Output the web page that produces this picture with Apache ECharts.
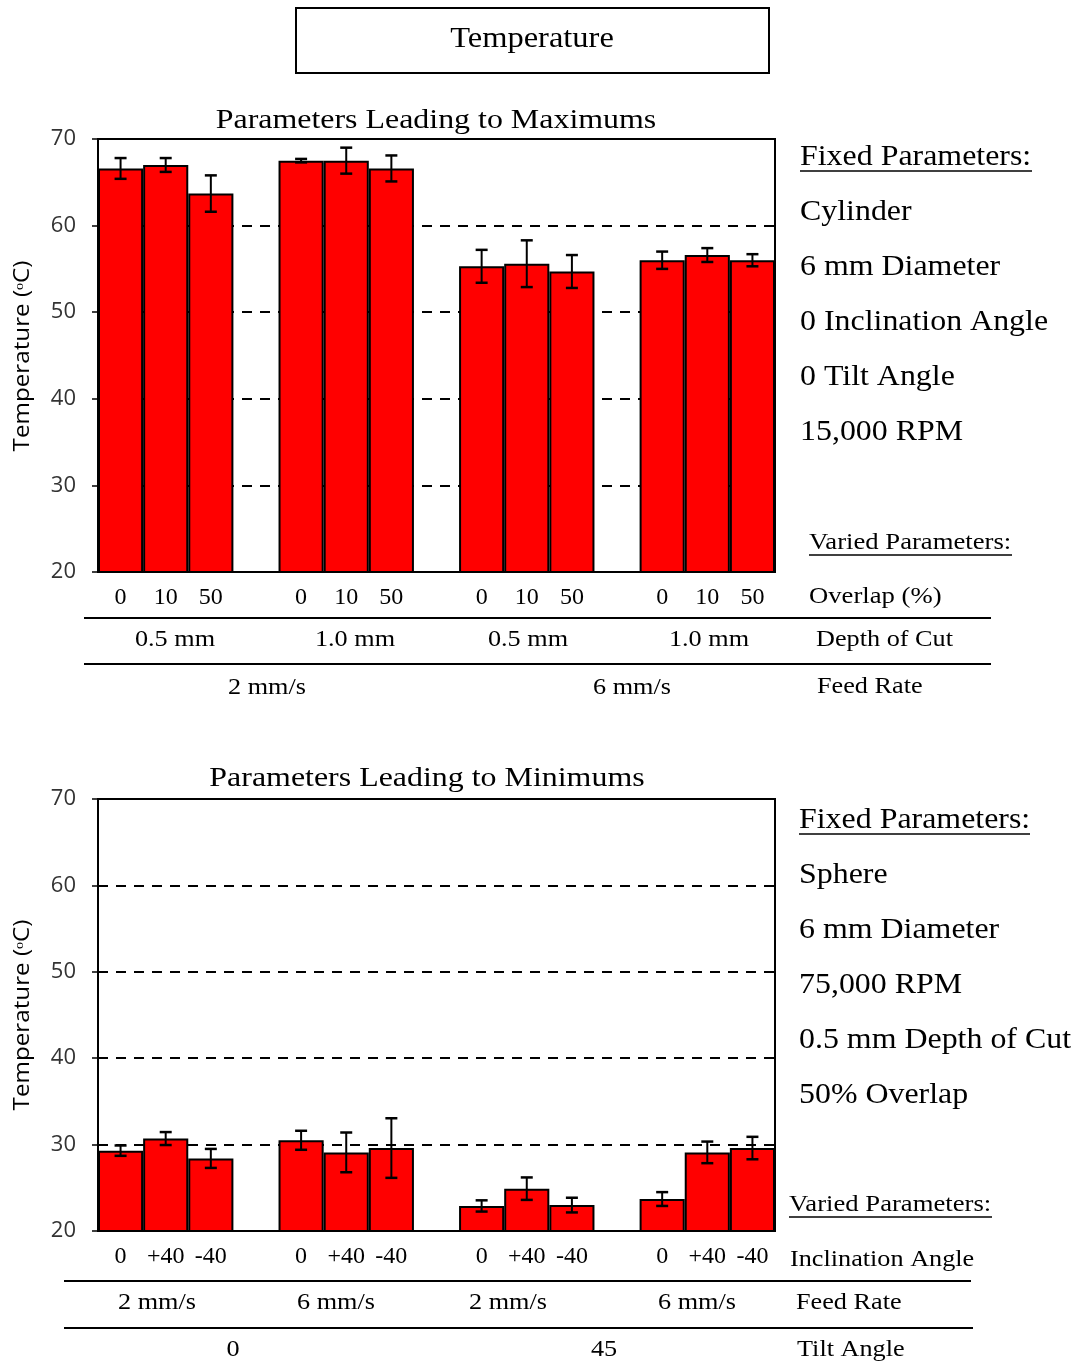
<!DOCTYPE html>
<html><head><meta charset="utf-8">
<script src="https://cdn.jsdelivr.net/npm/echarts@6/dist/echarts.min.js"></script>
<style>html,body{margin:0;padding:0;background:#fff}#c{width:1081px;height:1363px}</style>
</head><body><div id="c"></div>
<script>
// ---- data ----
var overlapLabels = ['0', '10', '50'];
var inclinationLabels = ['0', '+40', '-40'];
var maxValues = [66.6, 67.0, 63.7, 67.5, 67.5, 66.6, 55.3, 55.6, 54.7, 56.0, 56.6, 56.0];
var maxErrors = [1.2, 0.8, 2.1, 0.2, 1.5, 1.5, 1.9, 2.7, 1.9, 1.0, 0.8, 0.7];
var minValues = [29.3, 30.7, 28.4, 30.5, 29.1, 29.6, 22.9, 24.9, 23.0, 23.7, 29.1, 29.6];
var minErrors = [0.6, 0.75, 1.1, 1.1, 2.3, 3.45, 0.65, 1.3, 0.85, 0.8, 1.25, 1.3];
var depthLabels = ['0.5 mm', '1.0 mm', '0.5 mm', '1.0 mm'];
var feedLabelsTop = ['2 mm/s', '6 mm/s'];
var feedLabelsBottom = ['2 mm/s', '6 mm/s', '2 mm/s', '6 mm/s'];
var tiltLabels = ['0', '45'];
var fixedTop = ['Cylinder', '6 mm Diameter', '0 Inclination Angle', '0 Tilt Angle', '15,000 RPM'];
var fixedBottom = ['Sphere', '6 mm Diameter', '75,000 RPM', '0.5 mm Depth of Cut', '50% Overlap'];

// ---- build 15-slot categories (3 bars + gap per group) ----
function slots(labels, n) {
  var cats = [];
  for (var g = 0; g < n; g++) {
    labels.forEach(function (l) { cats.push(l); });
    if (g < n - 1) cats.push(' ');
  }
  return cats;
}
function slotData(vals) {
  var out = [];
  vals.forEach(function (v, i) {
    out.push(v);
    if (i % 3 === 2 && i < vals.length - 1) out.push('-');
  });
  return out;
}
function errData(vals, errs) {
  var out = [];
  var k = 0;
  vals.forEach(function (v, i) {
    out.push([k, v, errs[i]]);
    k++;
    if (i % 3 === 2) k++;
  });
  return out;
}
var topCats = slots(overlapLabels, 4);
var botCats = slots(inclinationLabels, 4);

var serif = 'Liberation Serif';
var sans = 'Open Sans';

function errRender(params, api) {
  var x = api.value(0), m = api.value(1), e = api.value(2);
  var hi = api.coord([x, m + e]), lo = api.coord([x, m - e]);
  var w = 6;
  return {
    type: 'group',
    children: [
      { type: 'line', shape: { x1: hi[0], y1: hi[1], x2: lo[0], y2: lo[1] }, style: { stroke: '#000', lineWidth: 2 } },
      { type: 'line', shape: { x1: hi[0] - w, y1: hi[1], x2: hi[0] + w, y2: hi[1] }, style: { stroke: '#000', lineWidth: 2.5 } },
      { type: 'line', shape: { x1: lo[0] - w, y1: lo[1], x2: lo[0] + w, y2: lo[1] }, style: { stroke: '#000', lineWidth: 2.5 } }
    ]
  };
}

function yAxisCfg(gi) {
  return {
    gridIndex: gi, type: 'value', min: 20, max: 70, interval: 10,
    axisLine: { show: true, lineStyle: { color: '#000', width: 2 } },
    axisTick: { show: true, length: 6, lineStyle: { color: '#000', width: 1.5 } },
    axisLabel: { margin: 22, fontFamily: sans, fontSize: 22, color: '#333' },
    splitLine: { show: true, lineStyle: { color: '#000', width: 2, type: [10, 8] } }
  };
}
function xAxisCfg(gi, cats) {
  return {
    gridIndex: gi, type: 'category', data: cats,
    axisLine: { show: true, lineStyle: { color: '#000', width: 2 } },
    axisTick: { show: false },
    axisLabel: { interval: 0, margin: 14, fontFamily: serif, fontSize: 24, color: '#000' }
  };
}

function T(text, x, y, size, opts) {
  opts = opts || {};
  return {
    type: 'text', x: x, y: y, rotation: opts.rot || 0, z: 100,
    scaleX: opts.sx || 1.14, scaleY: 1,
    style: {
      text: text, fontFamily: opts.font || serif, fontSize: size, fill: '#000',
      textAlign: opts.align || 'center', textVerticalAlign: 'middle'
    }
  };
}
function L(x1, y1, x2, y2, w) {
  return { type: 'line', z: 100, shape: { x1: x1, y1: y1, x2: x2, y2: y2 }, style: { stroke: '#000', lineWidth: w || 2 } };
}

var graphics = [];
// title box
graphics.push({ type: 'rect', z: 100, shape: { x: 296, y: 8, width: 473, height: 65 }, style: { fill: '#fff', stroke: '#000', lineWidth: 2 } });
graphics.push(T('Temperature', 532, 39, 29, { sx: 1.12 }));
// chart titles
graphics.push(T('Parameters Leading to Maximums', 436, 121, 28));
graphics.push(T('Parameters Leading to Minimums', 427, 779, 28));
// y axis names
graphics.push(T('Temperature (ᵒC)', 23, 356, 22, { rot: Math.PI / 2, font: sans, sx: 1.1 }));
graphics.push(T('Temperature (ᵒC)', 23, 1015, 22, { rot: Math.PI / 2, font: sans, sx: 1.1 }));

// top category rows
var depthX = [175, 355, 528, 709];
depthLabels.forEach(function (d, i) { graphics.push(T(d, depthX[i], 640, 23)); });
var feedTopX = [267, 632];
feedLabelsTop.forEach(function (d, i) { graphics.push(T(d, feedTopX[i], 688, 23)); });
graphics.push(L(84, 618, 991, 618));
graphics.push(L(84, 664, 991, 664));
graphics.push(T('Overlap (%)', 809, 597, 23, { align: 'left', sx: 1.16 }));
graphics.push(T('Depth of Cut', 816, 640, 23, { align: 'left' }));
graphics.push(T('Feed Rate', 817, 687, 23, { align: 'left' }));

// bottom category rows
var feedBotX = [157, 336, 508, 697];
feedLabelsBottom.forEach(function (d, i) { graphics.push(T(d, feedBotX[i], 1303, 23)); });
var tiltX = [233, 604];
tiltLabels.forEach(function (d, i) { graphics.push(T(d, tiltX[i], 1350, 23)); });
graphics.push(L(64, 1281, 971, 1281));
graphics.push(L(64, 1328, 973, 1328));
graphics.push(T('Inclination Angle', 790, 1260, 23, { align: 'left' }));
graphics.push(T('Feed Rate', 796, 1303, 23, { align: 'left' }));
graphics.push(T('Tilt Angle', 797, 1350, 23, { align: 'left' }));

// fixed / varied parameter text
graphics.push(T('Fixed Parameters:', 800, 157, 29, { align: 'left', sx: 1.1 }));
graphics.push(L(800, 171, 1032, 171, 1.5));
fixedTop.forEach(function (s, i) { graphics.push(T(s, 800, 212 + 55 * i, 29, { align: 'left', sx: 1.1 })); });
graphics.push(T('Varied Parameters:', 809, 543, 23, { align: 'left', sx: 1.16 }));
graphics.push(L(809, 555, 1012, 555, 1.5));

graphics.push(T('Fixed Parameters:', 799, 820, 29, { align: 'left', sx: 1.1 }));
graphics.push(L(799, 834, 1030, 834, 1.5));
fixedBottom.forEach(function (s, i) { graphics.push(T(s, 799, 875 + 55.2 * i, 29, { align: 'left', sx: 1.1 })); });
graphics.push(T('Varied Parameters:', 789, 1205, 23, { align: 'left', sx: 1.16 }));
graphics.push(L(789, 1217, 992, 1217, 1.5));

var barStyle = { color: '#ff0000', borderColor: '#000', borderWidth: 2 };

var option = {
  backgroundColor: '#fff',
  animation: false,
  grid: [
    { left: 98, top: 139, width: 677, height: 433, show: true, borderColor: '#000', borderWidth: 2, backgroundColor: 'transparent' },
    { left: 98, top: 799, width: 677, height: 432, show: true, borderColor: '#000', borderWidth: 2, backgroundColor: 'transparent' }
  ],
  xAxis: [xAxisCfg(0, topCats), xAxisCfg(1, botCats)],
  yAxis: [yAxisCfg(0), yAxisCfg(1)],
  series: [
    { type: 'bar', xAxisIndex: 0, yAxisIndex: 0, barWidth: '100%', data: slotData(maxValues), itemStyle: barStyle },
    { type: 'custom', xAxisIndex: 0, yAxisIndex: 0, renderItem: errRender, data: errData(maxValues, maxErrors), z: 10 },
    { type: 'bar', xAxisIndex: 1, yAxisIndex: 1, barWidth: '100%', data: slotData(minValues), itemStyle: barStyle },
    { type: 'custom', xAxisIndex: 1, yAxisIndex: 1, renderItem: errRender, data: errData(minValues, minErrors), z: 10 }
  ],
  graphic: graphics
};
var chart = echarts.init(document.getElementById('c'), null, { renderer: 'canvas' });
chart.setOption(option);
</script></body></html>
